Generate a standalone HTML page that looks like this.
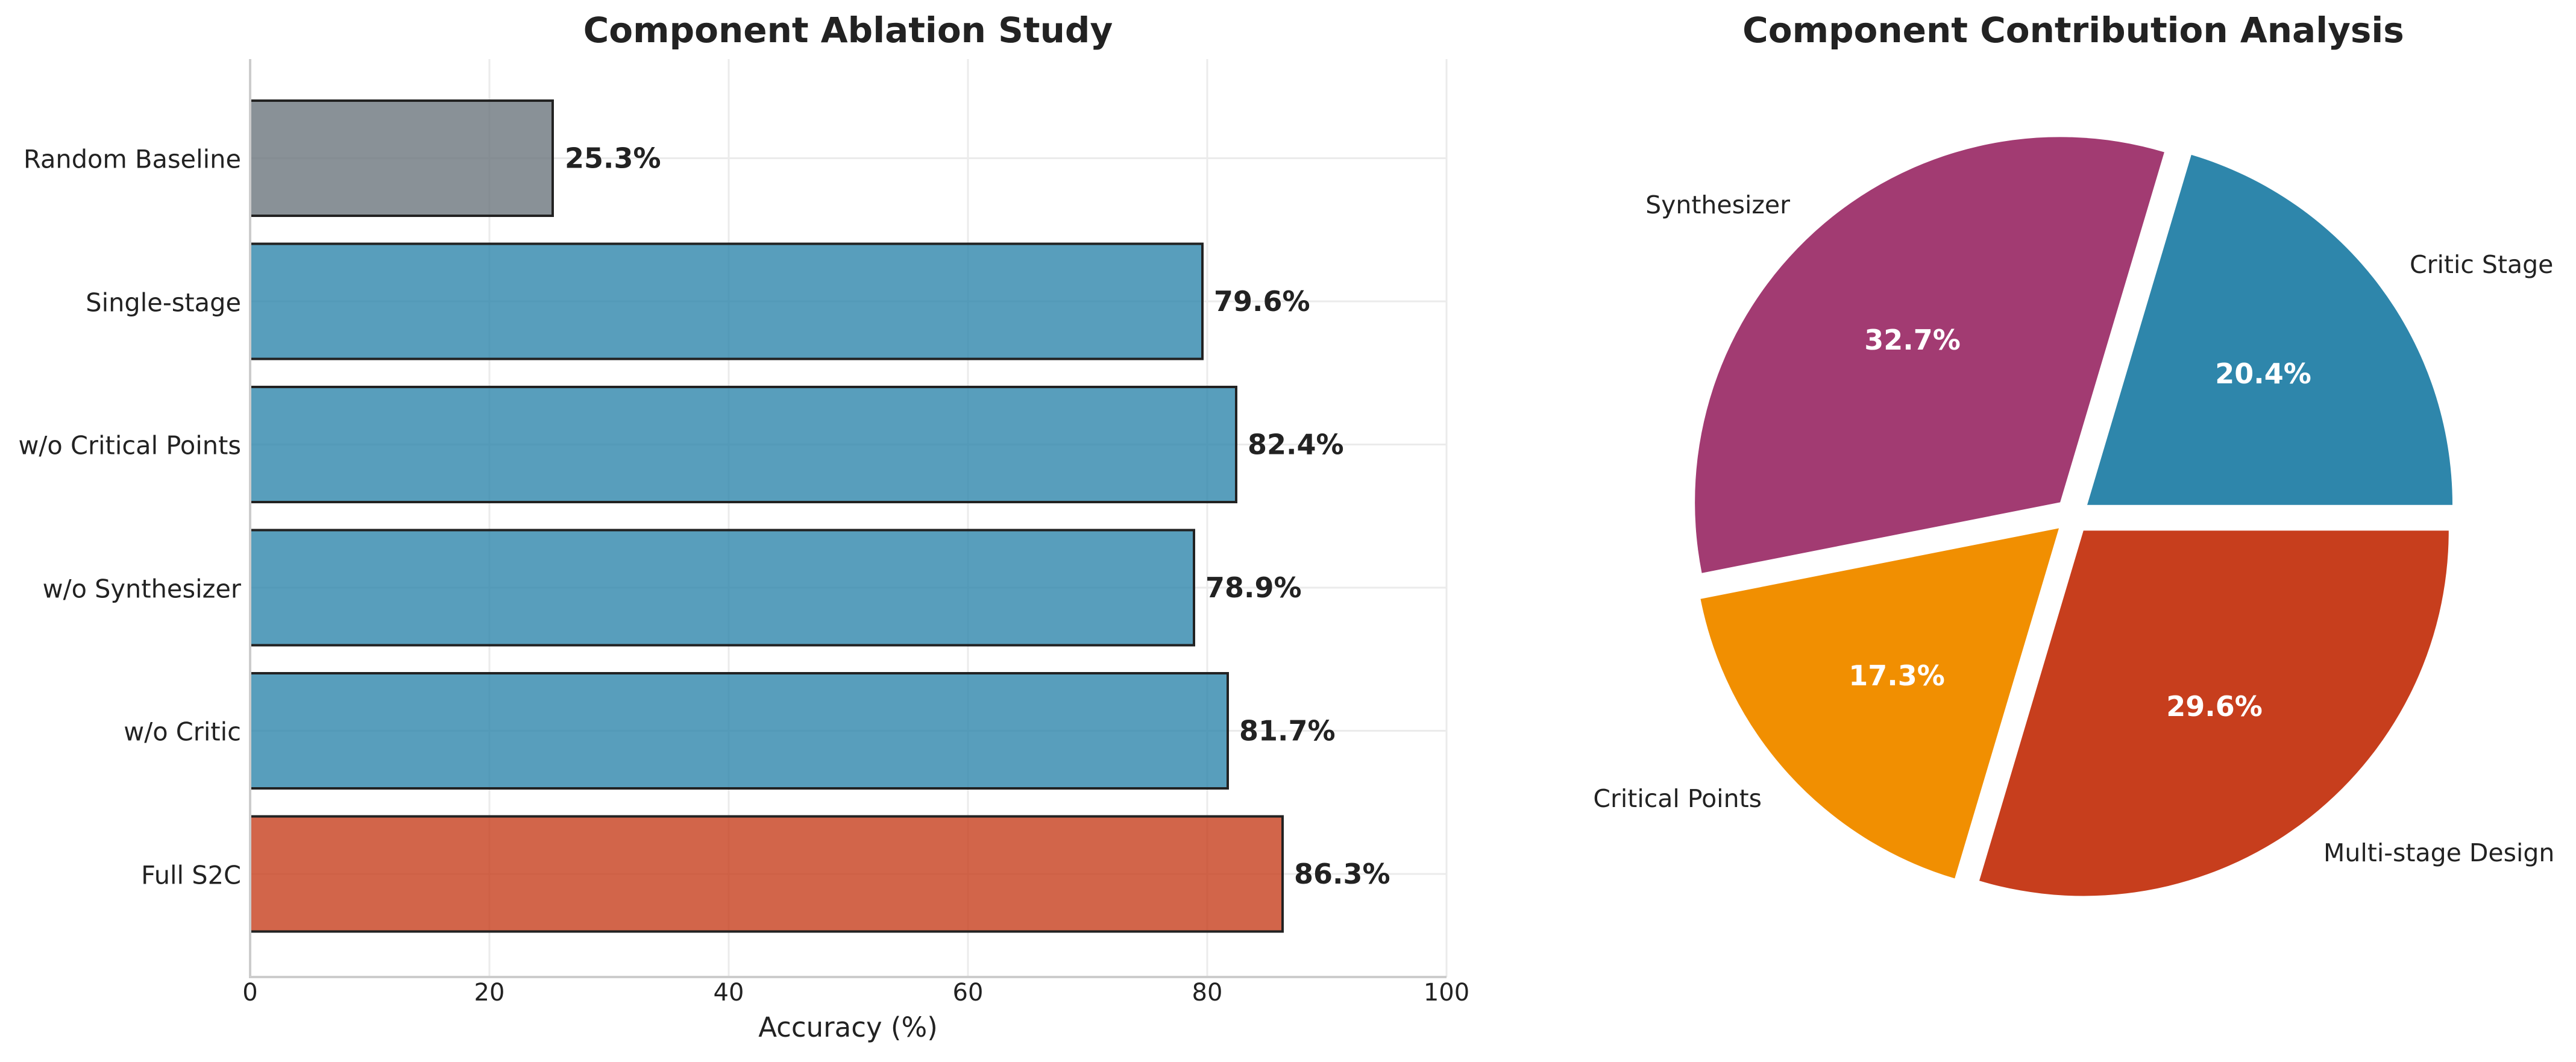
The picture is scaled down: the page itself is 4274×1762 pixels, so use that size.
<!DOCTYPE html>
<html><head><meta charset="utf-8"><style>html,body{margin:0;padding:0;background:#fff}svg{display:block}</style></head><body>
<svg width="4274" height="1762" viewBox="0 0 4274 1762" xmlns="http://www.w3.org/2000/svg" font-family="DejaVu Sans, Liberation Sans, sans-serif">
<rect width="4274" height="1762" fill="#fff"/>
<!-- grid -->
<g stroke="#ebebeb" stroke-width="3">
<line x1="812" y1="98" x2="812" y2="1621"/><line x1="1209" y1="98" x2="1209" y2="1621"/><line x1="1606" y1="98" x2="1606" y2="1621"/><line x1="2003" y1="98" x2="2003" y2="1621"/><line x1="2400" y1="98" x2="2400" y2="1621"/>
<line x1="415" y1="262.5" x2="2400" y2="262.5"/><line x1="415" y1="500" x2="2400" y2="500"/><line x1="415" y1="737.5" x2="2400" y2="737.5"/><line x1="415" y1="975" x2="2400" y2="975"/><line x1="415" y1="1212.5" x2="2400" y2="1212.5"/><line x1="415" y1="1450" x2="2400" y2="1450"/>
</g>
<!-- bars -->
<g stroke="#222" stroke-width="4">
<rect x="415" y="167" width="502" height="191" fill="#6C757D" fill-opacity="0.8"/>
<rect x="415" y="404.5" width="1580" height="191" fill="#2E86AB" fill-opacity="0.8"/>
<rect x="415" y="642" width="1636" height="191" fill="#2E86AB" fill-opacity="0.8"/>
<rect x="415" y="879.5" width="1566" height="191" fill="#2E86AB" fill-opacity="0.8"/>
<rect x="415" y="1117" width="1622" height="191" fill="#2E86AB" fill-opacity="0.8"/>
<rect x="415" y="1354.5" width="1713" height="191" fill="#C73E1D" fill-opacity="0.8"/>
</g>
<!-- spines -->
<g stroke="#cccccc" stroke-width="4"><line x1="415" y1="98" x2="415" y2="1623"/><line x1="413" y1="1621" x2="2400" y2="1621"/></g>
<!-- value labels -->
<g font-size="46" font-weight="bold" fill="#222" dominant-baseline="central">
<text x="937" y="262.5">25.3%</text>
<text x="2014" y="500">79.6%</text>
<text x="2070" y="737.5">82.4%</text>
<text x="2000" y="975">78.9%</text>
<text x="2056" y="1212.5">81.7%</text>
<text x="2147" y="1450">86.3%</text>
</g>
<!-- y tick labels -->
<g font-size="41.5" fill="#222" text-anchor="end" dominant-baseline="central">
<text x="400" y="264">Random Baseline</text>
<text x="400" y="502">Single-stage</text>
<text x="400" y="739">w/o Critical Points</text>
<text x="400" y="977">w/o Synthesizer</text>
<text x="400" y="1214">w/o Critic</text>
<text x="400" y="1452">Full S2C</text>
</g>
<g font-size="40" fill="#222" text-anchor="middle">
<text x="415" y="1660">0</text><text x="812" y="1660">20</text><text x="1209" y="1660">40</text><text x="1606" y="1660">60</text><text x="2003" y="1660">80</text><text x="2400" y="1660">100</text>
</g>
<text x="1407" y="1720" font-size="45" fill="#222" text-anchor="middle">Accuracy (%)</text>
<text x="1407" y="70" font-size="58" font-weight="bold" fill="#222" text-anchor="middle">Component Ablation Study</text>
<!-- pie -->
<path d="M3463,837.8 L4069,837.8 A606,606 0 0 0 3635.8,256.9 Z" fill="#2E86AB"/>
<path d="M3418.1,833.4 L3590.9,252.5 A606,606 0 0 0 2823.6,950.7 Z" fill="#A23B72"/>
<path d="M3416,876.5 L2821.5,993.8 A606,606 0 0 0 3243.2,1457.4 Z" fill="#F18F01"/>
<path d="M3456.8,880.4 L3284,1461.3 A606,606 0 0 0 4062.8,880.4 Z" fill="#C73E1D"/>
<g font-size="46" font-weight="bold" fill="#fff" text-anchor="middle" dominant-baseline="central">
<text x="3755" y="620">20.4%</text>
<text x="3173" y="564">32.7%</text>
<text x="3147" y="1121">17.3%</text>
<text x="3674" y="1172">29.6%</text>
</g>
<g font-size="41" fill="#222" dominant-baseline="central">
<text x="3998" y="439">Critic Stage</text>
<text x="2970" y="340" text-anchor="end">Synthesizer</text>
<text x="2923" y="1325" text-anchor="end">Critical Points</text>
<text x="3855" y="1415">Multi-stage Design</text>
</g>
<text x="3440" y="70" font-size="58" font-weight="bold" fill="#222" text-anchor="middle">Component Contribution Analysis</text>
</svg>
</body></html>
